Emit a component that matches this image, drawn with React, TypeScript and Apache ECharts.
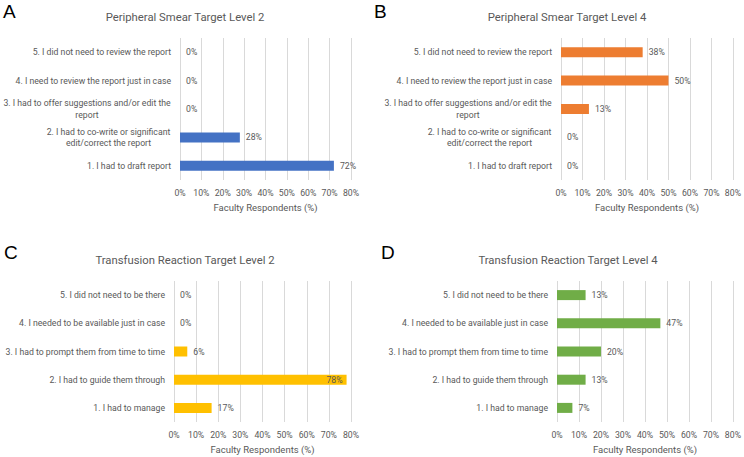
import React, { useEffect, useRef } from "react";
import * as echarts from "echarts";

const smearCategories = [
  "1. I had to draft report",
  "2. I had to co-write or significant\nedit/correct the report",
  "3. I had to offer suggestions and/or edit the\nreport",
  "4. I need to review the report just in case",
  "5. I did not need to review the report",
];
const transfusionCategories = [
  "1. I had to manage",
  "2. I had to guide them through",
  "3. I had to prompt them from time to time",
  "4. I needed to be available just in case",
  "5. I did not need to be there",
];
const smearLevel2 = [72, 28, 0, 0, 0];
const smearLevel4 = [0, 0, 13, 50, 38];
const transfusionLevel2 = [17, 78, 6, 0, 0];
const transfusionLevel4 = [7, 13, 20, 47, 13];
const tickValues = [0, 10, 20, 30, 40, 50, 60, 70, 80];

const titles = [
  "Peripheral Smear Target Level 2",
  "Peripheral Smear Target Level 4",
  "Transfusion Reaction Target Level 2",
  "Transfusion Reaction Target Level 4",
];
const letters = ["A", "B", "C", "D"];
const colors = ["#4472C4", "#ED7D31", "#FFC000", "#70AD47"];

const FONT = "Roboto";
const LABEL_SIZE = 8.7;
const GRAY = "#595959";

function measure(text: string, size: number) {
  const c = document.createElement("canvas").getContext("2d")!;
  c.font = `${size}px ${FONT}`;
  return c.measureText(text).width;
}

function catFormatter(v: string) {
  const lines = v.split("\n");
  if (lines.length === 1) return v;
  const w = Math.max(...lines.map((l) => measure(l, LABEL_SIZE))) + 1;
  return lines.map((l) => `{c${Math.round(w)}|${l}}`).join("\n");
}

function richFor(cats: string[]) {
  const rich: any = {};
  cats.forEach((v) => {
    const lines = v.split("\n");
    if (lines.length > 1) {
      const w = Math.round(Math.max(...lines.map((l) => measure(l, LABEL_SIZE))) + 1);
      rich["c" + w] = {
        width: w,
        align: "center",
        fontSize: LABEL_SIZE,
        fontFamily: FONT,
        color: GRAY,
        lineHeight: 11.5,
      };
    }
  });
  return rich;
}

export default function App() {
  const ref = useRef<HTMLDivElement>(null);
  useEffect(() => {
    const chart = echarts.init(ref.current!, null, { renderer: "svg" });
    const grids = [
      { left: 179, top: 38, width: 172, height: 142 },
      { left: 561, top: 38, width: 174, height: 142 },
      { left: 174, top: 281, width: 177, height: 141 },
      { left: 557, top: 281, width: 177, height: 141 },
    ];
    const cats = [smearCategories, smearCategories, transfusionCategories, transfusionCategories];
    const datas = [smearLevel2, smearLevel4, transfusionLevel2, transfusionLevel4];
    const titleCenters = [
      [185, 17],
      [567, 17],
      [185, 260],
      [568, 260],
    ];
    const letterPos = [
      [3, 2],
      [374, 2],
      [4, 243],
      [381, 243],
    ];
    const option: any = {
      animation: false,
      backgroundColor: "#ffffff",
      textStyle: { fontFamily: FONT },
      grid: grids.map((g) => ({ ...g, containLabel: false })),
      xAxis: grids.map((_, i) => ({
        type: "value",
        gridIndex: i,
        min: 0,
        max: 80,
        interval: 10,
        axisLine: { show: false },
        axisTick: { show: false },
        splitLine: { show: true, lineStyle: { color: "#d9d9d9", width: 1 } },
        axisLabel: {
          formatter: (v: number) => (tickValues.includes(v) ? v + "%" : ""),
          fontSize: LABEL_SIZE,
          color: GRAY,
          fontFamily: FONT,
          margin: 8,
        },
        name: "Faculty Respondents (%)",
        nameLocation: "middle",
        nameGap: 22,
        nameTextStyle: { fontSize: 9.5, color: GRAY, fontFamily: FONT },
      })),
      yAxis: grids.map((_, i) => ({
        type: "category",
        gridIndex: i,
        data: cats[i],
        axisLine: { show: false },
        axisTick: { show: false },
        splitLine: { show: false },
        axisLabel: {
          fontSize: LABEL_SIZE,
          color: GRAY,
          fontFamily: FONT,
          margin: 9,
          lineHeight: 11.5,
          formatter: catFormatter,
          rich: richFor(cats[i]),
        },
      })),
      series: datas.map((d, i) => ({
        type: "bar",
        xAxisIndex: i,
        yAxisIndex: i,
        barWidth: 10,
        itemStyle: { color: colors[i] },
        label: {
          show: true,
          position: "right",
          distance: 6,
          formatter: "{c}%",
          fontSize: LABEL_SIZE,
          color: GRAY,
          fontFamily: FONT,
        },
        data: d.map((v) =>
          v > 75
            ? { value: v, label: { position: "insideRight", distance: 4 } }
            : v
        ),
      })),
      graphic: [
        ...titles.map((t, i) => ({
          type: "text",
          x: titleCenters[i][0],
          y: titleCenters[i][1],
          style: {
            text: t,
            fontSize: 11.3,
            fontFamily: FONT,
            fill: GRAY,
            textAlign: "center",
            textVerticalAlign: "middle",
          },
        })),
        ...letters.map((t, i) => ({
          type: "text",
          x: letterPos[i][0],
          y: letterPos[i][1],
          style: {
            text: t,
            fontSize: 19,
            fontFamily: "Liberation Sans",
            fill: "#000000",
          },
        })),
      ],
    };
    chart.setOption(option);
    return () => chart.dispose();
  }, []);
  return (
    <div
      ref={ref}
      style={{ position: "absolute", left: 0, top: 0, width: 744, height: 457 }}
    />
  );
}
